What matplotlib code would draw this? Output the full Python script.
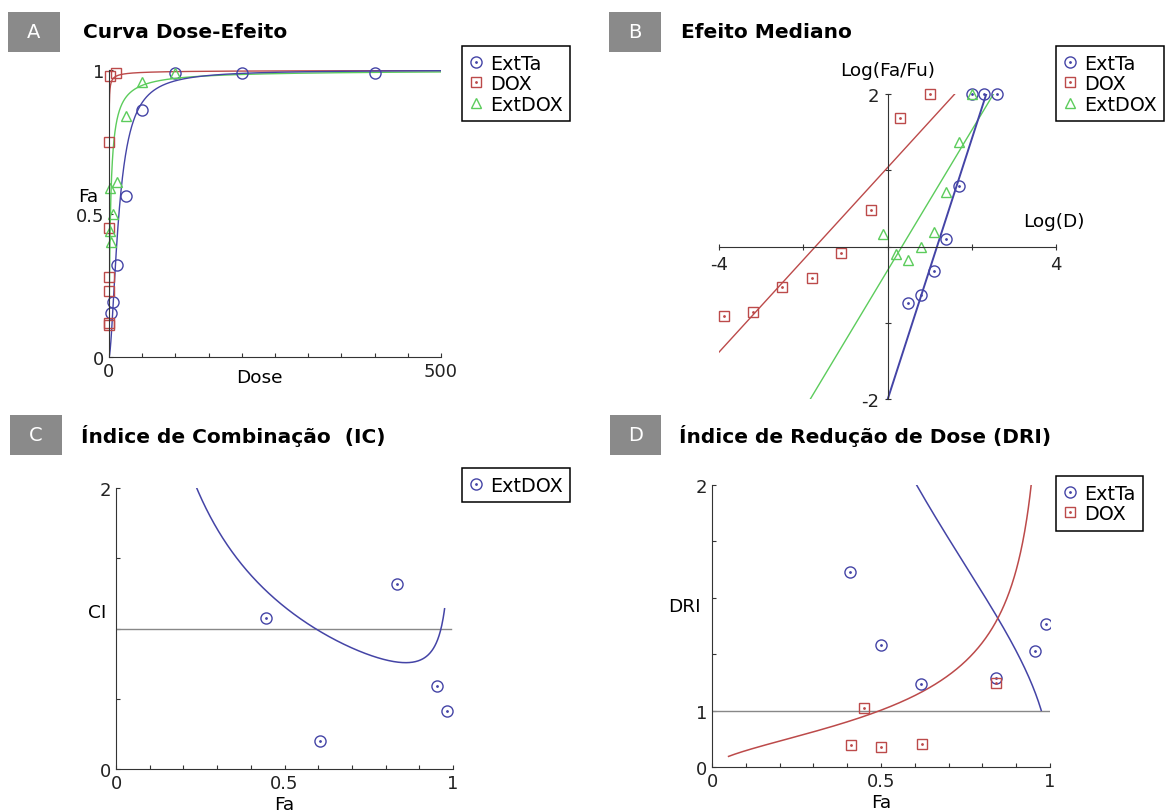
import numpy as np
import matplotlib
matplotlib.use("Agg")
import matplotlib.pyplot as plt
from matplotlib.patches import Rectangle

plt.rcParams['font.family'] = ['DejaVu Sans']

# dose-effect data (dose, fraction affected)
ext_dose = [3.125, 6.25, 12.5, 25, 50, 100, 200, 400]
ext_fa = [0.155, 0.19, 0.32, 0.56, 0.86, 0.99, 0.99, 0.99]
dox_dose = [0.000128, 0.00064, 0.0032, 0.016, 0.08, 0.4, 2, 10]
dox_fa = [0.11, 0.12, 0.23, 0.28, 0.45, 0.75, 0.98, 0.99]
combo_dose = [0.78, 1.56, 3.125, 6.25, 12.5, 25, 50, 100]
combo_fa = [0.59, 0.44, 0.40, 0.50, 0.61, 0.84, 0.959, 0.99]

# median-effect parameters: slope m and median dose Dm
ext_m, ext_dm = 1.71, 15.0
dox_m, dox_dm = 0.605, 0.0195
combo_m, combo_dm = 0.92, 2.2
# amount of each drug in one unit of the combination
combo_ext_part = 1.1
combo_dox_part = 0.0088

# combination index points
ci_fa = [0.446, 0.606, 0.835, 0.952, 0.983]
ci_val = [1.074, 0.197, 1.314, 0.589, 0.416]

# dose reduction index points
dri_ext_fa = [0.409, 0.501, 0.617, 0.839, 0.957, 0.987]
dri_ext_val = [3.46, 2.17, 1.48, 1.57, 2.06, 2.53]
dri_dox_fa = [0.411, 0.45, 0.501, 0.62, 0.839]
dri_dox_val = [0.39, 1.05, 0.36, 0.41, 1.49]

BLUE = '#4444a6'
RED = '#bc4a4a'
GREEN = '#5ccc5c'
GRAY = '#8a8a8a'
TICK_FS = 13
LAB_FS = 13.3
LEG_FS = 13.8

W, H = 1171, 812
fig = plt.figure(figsize=(W / 100, H / 100), dpi=100)


def px_axes(left, top, right, bottom):
    return fig.add_axes([left / W, 1 - bottom / H, (right - left) / W, (bottom - top) / H])


def fa_of_dose(d, m, dm):
    return 1 / (1 + (dm / d) ** m)


def dose_of_fa(fa, m, dm):
    return dm * (fa / (1 - fa)) ** (1 / m)


def panel_title(x0, x1, yc, tx, letter, title):
    fig.patches.append(Rectangle((x0 / W, 1 - (yc + 20) / H), (x1 - x0) / W, 40 / H,
                                 transform=fig.transFigure, fc=GRAY, ec='none'))
    fig.text((x0 + x1) / 2 / W, 1 - yc / H, letter, color='white', fontsize=14,
             ha='center', va='center')
    fig.text(tx / W, 1 - yc / H, title, fontsize=14.5, fontweight='bold',
             ha='left', va='center')


def legend_at(ax, handles, labels, x, y):
    leg = ax.legend(handles, labels, loc='upper left', bbox_to_anchor=(x / W, 1 - y / H),
                    bbox_transform=fig.transFigure, fontsize=LEG_FS, frameon=True,
                    fancybox=False, framealpha=1, edgecolor='black', handlelength=0.7,
                    handletextpad=0.35, borderpad=0.4, labelspacing=0.08,
                    borderaxespad=0)
    leg.get_frame().set_linewidth(1.1)


def dotted(ax, x, y, color, marker, ms, **kw):
    h1, = ax.plot(x, y, ls='none', marker=marker, ms=ms, mfc='none', mec=color, mew=1.0, **kw)
    h2, = ax.plot(x, y, ls='none', marker='.', ms=2, color=color, **kw)
    return (h1, h2)


def style_axes(ax):
    for s in ['top', 'right']:
        ax.spines[s].set_visible(False)
    for s in ['left', 'bottom']:
        ax.spines[s].set_color('#333333')
    ax.tick_params(direction='in', length=3, labelsize=TICK_FS, colors='#333333',
                   labelcolor='#222222')


# ---------- A: dose-effect curves ----------
axA = px_axes(109, 71, 441, 358)
style_axes(axA)
dd = np.linspace(1e-4, 500, 20000)
axA.plot(dd, fa_of_dose(dd, dox_m, dox_dm), color=RED, lw=1)
axA.plot(dd, fa_of_dose(dd, combo_m, combo_dm), color=GREEN, lw=1)
axA.plot(dd, fa_of_dose(dd, ext_m, ext_dm), color=BLUE, lw=1)
hA1, = axA.plot(ext_dose, ext_fa, ls='none', marker='o', ms=8, mfc='none', mec=BLUE, clip_on=False)
hA2, = axA.plot(dox_dose, dox_fa, ls='none', marker='s', ms=7.5, mfc='none', mec=RED, clip_on=False)
hA3, = axA.plot(combo_dose, combo_fa, ls='none', marker='^', ms=7.5, mfc='none', mec=GREEN, clip_on=False)
axA.set_xlim(0, 500)
axA.set_ylim(0, 1)
axA.set_xticks(np.arange(0, 501, 50))
axA.set_xticklabels(['0'] + [''] * 9 + ['500'])
axA.set_yticks([0, 0.5, 1])
axA.set_yticklabels(['0', '0.5', '1'])
axA.set_xlabel('Dose', fontsize=LAB_FS, va='center')
axA.xaxis.set_label_coords(0.454, -0.07)
axA.set_ylabel('Fa', fontsize=LAB_FS, rotation=0, va='center', ha='center')
axA.yaxis.set_label_coords(-0.063, 0.56)
lgA_h = [(hA1, axA.plot([], [], ls='none', marker='.', ms=2, color=BLUE)[0]),
         (hA2, axA.plot([], [], ls='none', marker='.', ms=2, color=RED)[0]), hA3]
legend_at(axA, lgA_h, ['ExtTa', 'DOX', 'ExtDOX'], 462, 47)
panel_title(8, 60, 33, 83, 'A', 'Curva Dose-Efeito')

# ---------- B: median-effect plot ----------
axB = px_axes(719, 95, 1056, 400)
style_axes(axB)
axB.spines['left'].set_position('zero')
axB.spines['bottom'].set_position('zero')
lx = np.linspace(-4, 4, 400)
axB.plot(lx, dox_m * (lx - np.log10(dox_dm)), color=RED, lw=1)
axB.plot(lx, combo_m * (lx - np.log10(combo_dm)), color=GREEN, lw=1)
axB.plot(lx, ext_m * (lx - np.log10(ext_dm)), color=BLUE, lw=1.4)


def logit(fa):
    fa = np.asarray(fa)
    return np.log10(fa / (1 - fa))


hB1 = dotted(axB, np.log10(ext_dose), logit(ext_fa), BLUE, 'o', 8, clip_on=False)
hB2 = dotted(axB, np.log10(dox_dose), logit(dox_fa), RED, 's', 7.5, clip_on=False)
hB3, = axB.plot(np.log10(combo_dose), logit(combo_fa), ls='none', marker='^', ms=7.5,
                mfc='none', mec=GREEN, clip_on=False)
axB.set_xlim(-4, 4)
axB.set_ylim(-2, 2)
axB.set_xticks([-4, -2, 0, 2, 4])
axB.set_xticklabels(['-4', '', '', '', '4'])
axB.set_yticks([-2, -1, 0, 1, 2])
axB.set_yticklabels(['-2', '', '', '', '2'])
axB.tick_params(direction='inout', length=5)
axB.text(0, 2.2, 'Log(Fa/Fu)', fontsize=LAB_FS, ha='center', va='bottom')
axB.text(3.95, 0.34, 'Log(D)', fontsize=LAB_FS, ha='center', va='center')
legend_at(axB, [hB1, hB2, hB3], ['ExtTa', 'DOX', 'ExtDOX'], 1056, 47)
panel_title(609, 661, 33, 681, 'B', 'Efeito Mediano')

# ---------- C: combination index ----------
axC = px_axes(116, 489, 453, 770)
style_axes(axC)
fa_c = np.linspace(0.15, 0.975, 600)
dc = dose_of_fa(fa_c, combo_m, combo_dm)
ci_curve = (combo_ext_part * dc / dose_of_fa(fa_c, ext_m, ext_dm)
            + combo_dox_part * dc / dose_of_fa(fa_c, dox_m, dox_dm))
axC.plot([0, 0.995], [1, 1], color='#888888', lw=1)
axC.plot(fa_c, ci_curve, color=BLUE, lw=1.1)
hC = dotted(axC, ci_fa, ci_val, BLUE, 'o', 8)
axC.set_xlim(0, 1)
axC.set_ylim(0, 2)
axC.set_xticks(np.arange(0, 1.01, 0.1))
axC.set_xticklabels(['0', '', '', '', '', '0.5', '', '', '', '', '1'])
axC.set_yticks([0, 0.5, 1, 1.5, 2])
axC.set_yticklabels(['0', '', '', '', '2'])
axC.set_xlabel('Fa', fontsize=LAB_FS, va='center')
axC.xaxis.set_label_coords(0.5, -0.125)
axC.set_ylabel('CI', fontsize=LAB_FS, rotation=0, va='center', ha='center')
axC.yaxis.set_label_coords(-0.056, 0.56)
legend_at(axC, [hC], ['ExtDOX'], 462, 469)
panel_title(10, 62, 436, 81, 'C', 'Índice de Combinação  (IC)')

# ---------- D: dose reduction index ----------
axD = px_axes(712, 486, 1050, 768)
style_axes(axD)
fa_e = np.linspace(0.5, 0.974, 400)
fa_d = np.linspace(0.049, 0.96, 600)
dri_ext_curve = dose_of_fa(fa_e, ext_m, ext_dm) / (combo_ext_part * dose_of_fa(fa_e, combo_m, combo_dm))
dri_dox_curve = dose_of_fa(fa_d, dox_m, dox_dm) / (combo_dox_part * dose_of_fa(fa_d, combo_m, combo_dm))
axD.plot([0, 1], [1, 1], color='#888888', lw=1)
axD.plot(fa_e, dri_ext_curve, color=BLUE, lw=1.1)
axD.plot(fa_d, dri_dox_curve, color=RED, lw=1.1)
hD1 = dotted(axD, dri_ext_fa, dri_ext_val, BLUE, 'o', 8)
hD2 = dotted(axD, dri_dox_fa, dri_dox_val, RED, 's', 7.5)
axD.set_xlim(0, 1)
axD.set_ylim(0, 5)
axD.set_xticks(np.arange(0, 1.01, 0.1))
axD.set_xticklabels(['0', '', '', '', '', '0.5', '', '', '', '', '1'])
axD.set_yticks([0, 1, 2, 3, 4, 5])
axD.set_yticklabels(['0', '1', '', '', '', '2'])
axD.set_xlabel('Fa', fontsize=LAB_FS, va='center')
axD.xaxis.set_label_coords(0.5, -0.125)
axD.set_ylabel('DRI', fontsize=LAB_FS, rotation=0, va='center', ha='center')
axD.yaxis.set_label_coords(-0.083, 0.57)
legend_at(axD, [hD1, hD2], ['ExtTa', 'DOX'], 1056, 477)
panel_title(610, 661, 436, 679, 'D', 'Índice de Redução de Dose (DRI)')

fig.savefig('out.png', dpi=100)
